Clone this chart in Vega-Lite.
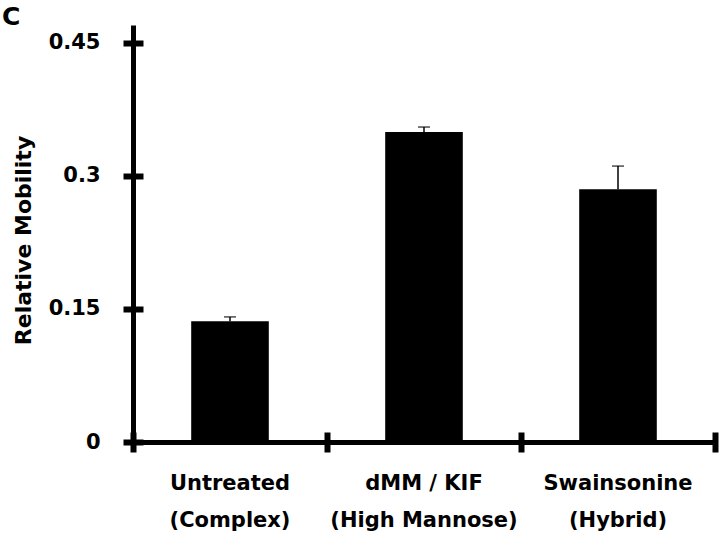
{
  "$schema": "https://vega.github.io/schema/vega-lite/v6.json",
  "width": 582,
  "height": 417,
  "autosize": {"type": "none"},
  "padding": {"left": 133, "top": 25, "right": 5, "bottom": 96},
  "background": "white",
  "title": {
    "text": "C",
    "anchor": "start",
    "frame": "group",
    "orient": "top",
    "dx": -131,
    "dy": 25,
    "offset": 0,
    "baseline": "alphabetic",
    "font": "DejaVu Sans",
    "fontSize": 25,
    "fontWeight": "bold",
    "color": "black"
  },
  "config": {
    "view": {"stroke": null},
    "axis": {"domainColor": "black", "tickColor": "black", "labelColor": "black", "titleColor": "black", "grid": false}
  },
  "data": {
    "values": [
      {"treatment": "Untreated (Complex)", "mobility": 0.136, "upper": 0.141},
      {"treatment": "dMM / KIF (High Mannose)", "mobility": 0.3495, "upper": 0.355},
      {"treatment": "Swainsonine (Hybrid)", "mobility": 0.285, "upper": 0.311}
    ]
  },
  "resolve": {"axis": {"x": "independent", "y": "independent"}},
  "layer": [
    {
      "mark": {"type": "bar", "color": "black", "width": {"band": 0.4}},
      "encoding": {
        "x": {
          "field": "treatment",
          "type": "nominal",
          "sort": null,
          "scale": {"paddingInner": 0, "paddingOuter": 0},
          "axis": {
            "orient": "bottom",
            "title": null,
            "domain": true,
            "domainWidth": 5,
            "ticks": false,
            "labelAngle": 0,
            "labelFont": "DejaVu Sans",
            "labelFontSize": 21,
            "labelFontWeight": "bold",
            "labelLineHeight": 37,
            "labelPadding": 30,
            "labelLimit": 0,
            "labelExpr": "[split(datum.label, ' (')[0], '(' + split(datum.label, ' (')[1]]"
          }
        },
        "y": {
          "field": "mobility",
          "type": "quantitative",
          "scale": {"domain": [0, 0.47], "nice": false, "zero": true},
          "axis": {
            "orient": "left",
            "values": [0, 0.15, 0.3, 0.45],
            "labelExpr": "datum.value == 0 ? '0' : format(datum.value, '.2~f')",
            "title": "Relative Mobility",
            "titleFont": "DejaVu Sans",
            "titleFontSize": 22,
            "titleFontWeight": "bold",
            "titlePadding": 13,
            "titleY": 215,
            "domain": true,
            "domainWidth": 5,
            "ticks": false,
            "labelFont": "DejaVu Sans",
            "labelFontSize": 21,
            "labelFontWeight": "bold",
            "labelPadding": 33,
            "labelBaseline": "middle"
          }
        }
      }
    },
    {
      "mark": {"type": "rule", "color": "black", "strokeWidth": 1.5},
      "encoding": {
        "x": {
          "field": "treatment",
          "type": "nominal",
          "sort": null,
          "axis": {
            "orient": "bottom",
            "title": null,
            "domain": false,
            "labels": false,
            "ticks": true,
            "tickBand": "extent",
            "tickSize": 20,
            "tickWidth": 6,
            "offset": -10
          }
        },
        "y": {
          "field": "mobility",
          "type": "quantitative",
          "axis": {
            "orient": "left",
            "title": null,
            "domain": false,
            "labels": false,
            "ticks": true,
            "values": [0, 0.15, 0.3, 0.45],
            "tickSize": 20,
            "tickWidth": 6,
            "offset": -10
          }
        },
        "y2": {"field": "upper"}
      }
    },
    {
      "mark": {"type": "tick", "color": "black", "size": 12, "thickness": 1.5},
      "encoding": {
        "x": {"field": "treatment", "type": "nominal", "sort": null, "axis": null},
        "y": {"field": "upper", "type": "quantitative", "axis": null}
      }
    }
  ]
}
